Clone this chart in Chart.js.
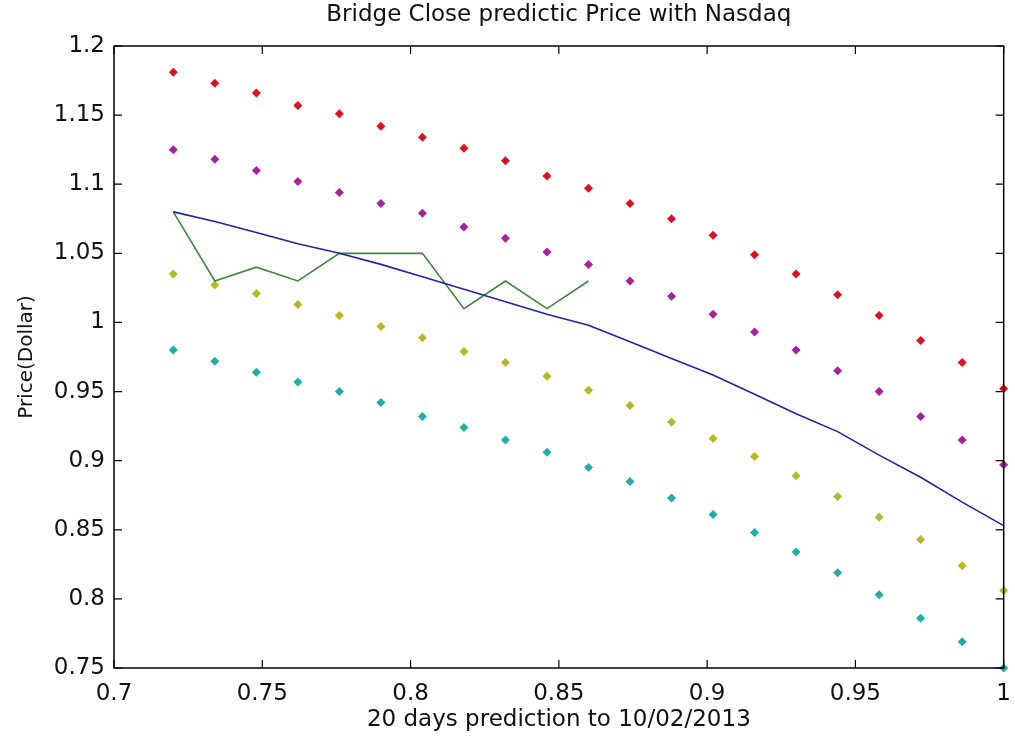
<!DOCTYPE html>
<html>
<head>
<meta charset="utf-8">
<script src="https://cdn.jsdelivr.net/npm/chart.js@4"></script>
<style>
  body { margin: 0; background: #fff; }
  canvas { display: block; }
</style>
</head>
<body>
<canvas id="chart" width="1015" height="740"></canvas>
<script>
// prediction days mapped to 0.72 .. 1.0
const xValues = [0.72, 0.734, 0.748, 0.762, 0.776, 0.79, 0.804, 0.818, 0.832, 0.846, 0.86,
                 0.874, 0.888, 0.902, 0.916, 0.93, 0.944, 0.958, 0.972, 0.986, 1.0];

const upper2 = [1.181, 1.173, 1.166, 1.157, 1.151, 1.142, 1.134, 1.126, 1.117, 1.106, 1.097,
                1.086, 1.075, 1.063, 1.049, 1.035, 1.020, 1.005, 0.987, 0.971, 0.952];
const upper1 = [1.125, 1.118, 1.110, 1.102, 1.094, 1.086, 1.079, 1.069, 1.061, 1.051, 1.042,
                1.030, 1.019, 1.006, 0.993, 0.980, 0.965, 0.950, 0.932, 0.915, 0.897];
const lower1 = [1.035, 1.027, 1.021, 1.013, 1.005, 0.997, 0.989, 0.979, 0.971, 0.961, 0.951,
                0.940, 0.928, 0.916, 0.903, 0.889, 0.874, 0.859, 0.843, 0.824, 0.806];
const lower2 = [0.980, 0.972, 0.964, 0.957, 0.950, 0.942, 0.932, 0.924, 0.915, 0.906, 0.895,
                0.885, 0.873, 0.861, 0.848, 0.834, 0.819, 0.803, 0.786, 0.769, 0.750];
const predicted = [1.080, 1.073, 1.065, 1.057, 1.050, 1.042, 1.033, 1.024, 1.015, 1.006, 0.998,
                   0.986, 0.974, 0.962, 0.948, 0.934, 0.921, 0.904, 0.888, 0.870, 0.853];
// actual close for the first 11 days
const actual = [1.08, 1.03, 1.04, 1.03, 1.05, 1.05, 1.05, 1.01, 1.03, 1.01, 1.03];

const xTicks = [0.7, 0.75, 0.8, 0.85, 0.9, 0.95, 1];
const yTicks = [0.75, 0.8, 0.85, 0.9, 0.95, 1, 1.05, 1.1, 1.15, 1.2];

const FONT = 'DejaVu Sans';
const TITLE = 'Bridge Close predictic Price with Nasdaq';

function pts(ys) {
  return ys.map((y, i) => ({ x: xValues[i], y: y }));
}

function dots(data, color) {
  return {
    type: 'scatter',
    data: pts(data),
    pointStyle: 'rectRot',
    pointRadius: 4.5,
    pointBorderWidth: 0,
    backgroundColor: color,
    borderColor: color,
    clip: false
  };
}

// matlab style box with inward ticks, title centred over the axes
const boxPlugin = {
  id: 'box',
  afterDatasetsDraw(chart) {
    const ctx = chart.ctx;
    const a = chart.chartArea;
    const xs = chart.scales.x, ys = chart.scales.y;
    ctx.save();
    ctx.strokeStyle = '#000';
    ctx.lineWidth = 1.5;
    ctx.strokeRect(a.left, a.top, a.right - a.left, a.bottom - a.top);
    ctx.lineWidth = 1.2;
    ctx.beginPath();
    xTicks.forEach(v => {
      const px = xs.getPixelForValue(v);
      ctx.moveTo(px, a.bottom); ctx.lineTo(px, a.bottom - 8);
      ctx.moveTo(px, a.top); ctx.lineTo(px, a.top + 8);
    });
    yTicks.forEach(v => {
      const py = ys.getPixelForValue(v);
      ctx.moveTo(a.left, py); ctx.lineTo(a.left + 8, py);
      ctx.moveTo(a.right, py); ctx.lineTo(a.right - 8, py);
    });
    ctx.stroke();

    ctx.fillStyle = '#111';
    ctx.font = '23px "' + FONT + '"';
    ctx.textAlign = 'center';
    ctx.textBaseline = 'middle';
    ctx.fillText(TITLE, (a.left + a.right) / 2, 15);
    ctx.restore();
  }
};

new Chart(document.getElementById('chart'), {
  data: {
    datasets: [
      {
        type: 'line',
        data: pts(predicted),
        borderColor: '#2222b0',
        borderWidth: 1.6,
        pointRadius: 0,
        tension: 0
      },
      {
        type: 'line',
        data: pts(actual),
        borderColor: '#3a8a3a',
        borderWidth: 1.6,
        pointRadius: 0,
        tension: 0
      },
      dots(upper2, '#dc1020'),
      dots(upper1, '#a8209c'),
      dots(lower1, '#b8b822'),
      dots(lower2, '#20aea4')
    ]
  },
  options: {
    responsive: false,
    animation: false,
    layout: { padding: { left: 0, right: 8, top: 46, bottom: 0 } },
    plugins: {
      legend: { display: false },
      tooltip: { enabled: false },
      title: { display: false }
    },
    scales: {
      x: {
        type: 'linear',
        min: 0.7,
        max: 1,
        afterBuildTicks: s => { s.ticks = xTicks.map(v => ({ value: v })); },
        afterFit: s => { s.height = 72; },
        grid: { display: false },
        border: { display: false },
        ticks: {
          color: '#111',
          padding: 4,
          maxRotation: 0,
          font: { family: FONT, size: 23 },
          callback: v => String(+v.toFixed(2))
        },
        title: {
          display: true,
          text: '20 days prediction to 10/02/2013',
          color: '#111',
          font: { family: FONT, size: 23 },
          padding: { top: 0, bottom: 6 }
        }
      },
      y: {
        type: 'linear',
        min: 0.75,
        max: 1.2,
        afterBuildTicks: s => { s.ticks = yTicks.map(v => ({ value: v })); },
        afterFit: s => { s.width = 114; },
        grid: { display: false },
        border: { display: false },
        ticks: {
          color: '#111',
          padding: 1,
          font: { family: FONT, size: 23 },
          callback: v => String(+v.toFixed(2))
        },
        title: {
          display: true,
          text: 'Price(Dollar)',
          color: '#111',
          font: { family: FONT, size: 20 },
          padding: { top: 15, bottom: 0 }
        }
      }
    }
  },
  plugins: [boxPlugin]
});
</script>
</body>
</html>
